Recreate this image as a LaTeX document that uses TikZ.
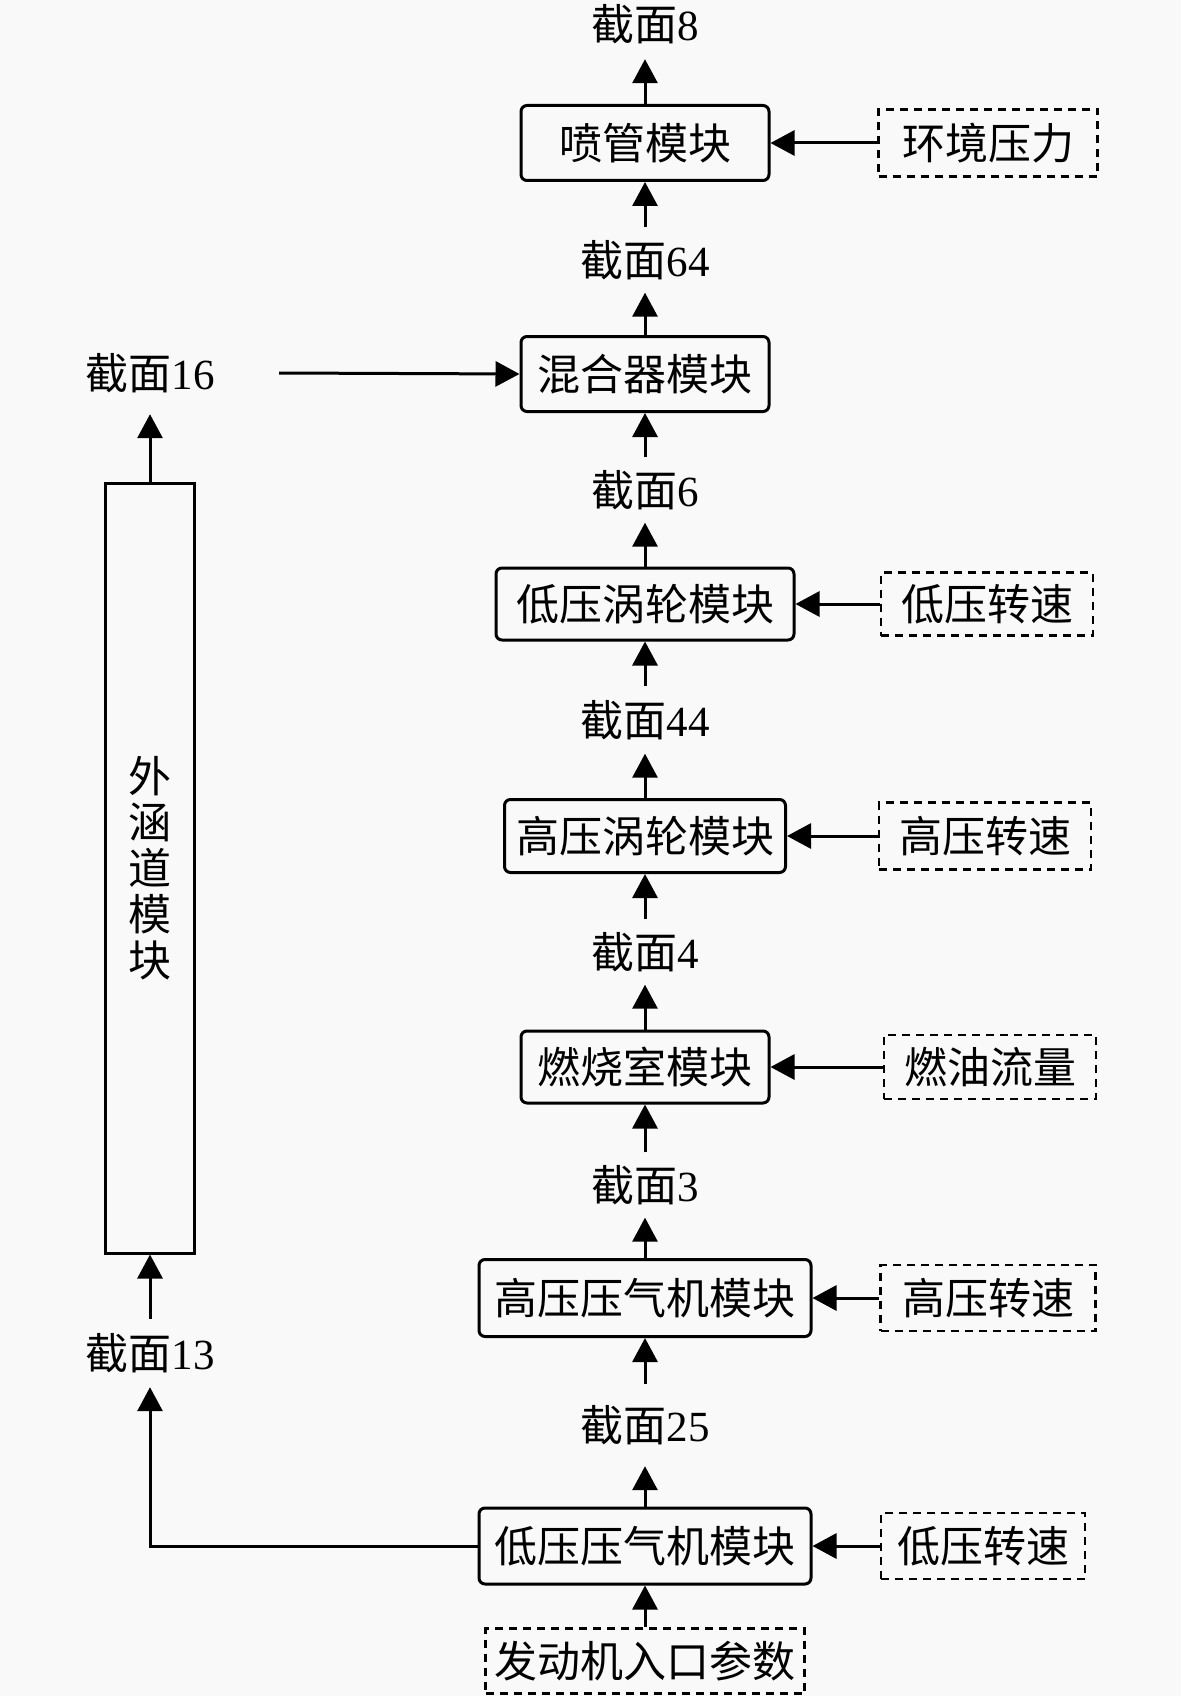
\documentclass[tikz,border=0pt]{standalone}
\usepackage{fontspec}
\setmainfont{Liberation Serif}
\newfontfamily\cjk{Noto Sans CJK SC}
\usetikzlibrary{arrows.meta}
\definecolor{bgc}{RGB}{249,249,249}
\begin{document}
\begin{tikzpicture}[x=1pt,y=-1pt,
  font=\fontsize{43}{46}\selectfont,
  mod/.style={draw, line width=3pt, rounded corners=6pt, minimum height=75pt, inner sep=0pt},
  inp/.style={draw, line width=2.8pt, dash pattern=on 8pt off 6pt, minimum height=65pt, inner sep=0pt},
  lbl/.style={inner sep=0pt, minimum height=65pt},
  arr/.style={line width=3pt, -{Triangle[length=24pt,width=25pt]}}]
\fill[bgc] (0,0) rectangle (1181,1696);
\useasboundingbox (0,0) rectangle (1181,1696);

% modules
\node[mod, minimum width=248pt] (noz) at (645,143) {\cjk 喷管模块};
\node[mod, minimum width=248pt] (mix) at (645,374) {\cjk 混合器模块};
\node[mod, minimum width=298pt, minimum height=72pt] (lpt) at (645,604) {\cjk 低压涡轮模块};
\node[mod, minimum width=281pt, minimum height=73pt] (hpt) at (645,836) {\cjk 高压涡轮模块};
\node[mod, minimum width=248pt, minimum height=72pt] (cmb) at (645,1067) {\cjk 燃烧室模块};
\node[mod, minimum width=332pt, minimum height=77pt] (hpc) at (645,1298) {\cjk 高压压气机模块};
\node[mod, minimum width=332pt, minimum height=76pt] (lpc) at (645,1546) {\cjk 低压压气机模块};

% inputs
\node[inp, minimum width=219pt, minimum height=67pt] (amb) at (988,143) {\cjk 环境压力};
\node[inp, minimum width=212pt, minimum height=63pt] (nl1) at (987,604) {\cjk 低压转速};
\node[inp, minimum width=212pt, minimum height=67pt] (nh1) at (985,836) {\cjk 高压转速};
\node[inp, minimum width=212pt, minimum height=64pt] (wf) at (990,1067) {\cjk 燃油流量};
\node[inp, minimum width=215pt, minimum height=66pt] (nh2) at (988,1298) {\cjk 高压转速};
\node[inp, minimum width=204pt, minimum height=66pt] (nl2) at (983,1546) {\cjk 低压转速};
\node[inp, minimum width=319pt, minimum height=65pt] (inl) at (645,1661) {\cjk 发动机入口参数};

% section labels
\node[lbl, minimum height=70pt] (s8) at (645,24) {{\cjk 截面}8};
\node[lbl] (s64) at (645,260) {{\cjk 截面}64};
\node[lbl] (s6) at (645,490) {{\cjk 截面}6};
\node[lbl, minimum height=67pt] (s44) at (645,720) {{\cjk 截面}44};
\node[lbl] (s4) at (645,952) {{\cjk 截面}4};
\node[lbl] (s3) at (645,1185) {{\cjk 截面}3};
\node[lbl, minimum height=82pt] (s25) at (645,1425) {{\cjk 截面}25};
\node[lbl, minimum height=82pt, minimum width=258pt] (s16) at (150,373) {{\cjk 截面}16};
\node[lbl, minimum height=68pt] (s13) at (150,1353) {{\cjk 截面}13};

% bypass duct
\node[draw, line width=3pt, minimum width=89pt, minimum height=770pt, inner sep=0pt, align=center] (byp) at (150,868) {\cjk 外\\\cjk 涵\\\cjk 道\\\cjk 模\\\cjk 块};

% main flow
\draw[arr] (inl.north) -- (lpc.south);
\draw[arr] (lpc.north) -- (s25.south);
\draw[arr] (s25.north) -- (hpc.south);
\draw[arr] (hpc.north) -- (s3.south);
\draw[arr] (s3.north) -- (cmb.south);
\draw[arr] (cmb.north) -- (s4.south);
\draw[arr] (s4.north) -- (hpt.south);
\draw[arr] (hpt.north) -- (s44.south);
\draw[arr] (s44.north) -- (lpt.south);
\draw[arr] (lpt.north) -- (s6.south);
\draw[arr] (s6.north) -- (mix.south);
\draw[arr] (mix.north) -- (s64.south);
\draw[arr] (s64.north) -- (noz.south);
\draw[arr] (noz.north) -- (s8.south);

% inputs
\draw[arr] (amb.west) -- (noz.east);
\draw[arr] (nl1.west) -- (lpt.east);
\draw[arr] (nh1.west) -- (hpt.east);
\draw[arr] (wf.west) -- (cmb.east);
\draw[arr] (nh2.west) -- (hpc.east);
\draw[arr] (nl2.west) -- (lpc.east);

% bypass
\draw[arr] (lpc.west) -| (s13.south);
\draw[arr] (s13.north) -- (byp.south);
\draw[arr] (byp.north) -- (s16.south);
\draw[arr] (s16.east) -- (mix.west);
\end{tikzpicture}
\end{document}
